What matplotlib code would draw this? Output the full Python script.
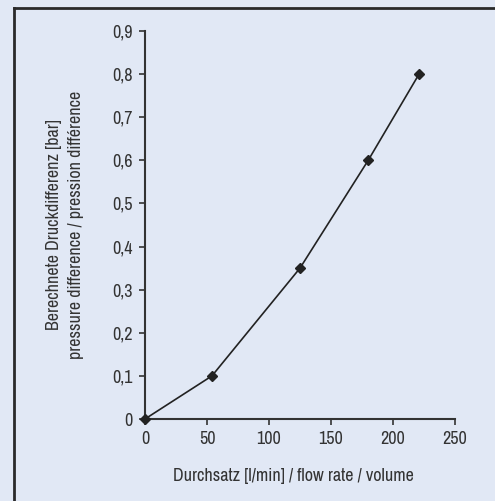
import matplotlib
matplotlib.use("Agg")
import matplotlib.pyplot as plt
from matplotlib import font_manager
from matplotlib.lines import Line2D

flow = [0, 54, 125, 180, 221]
pressure = [0, 0.1, 0.35, 0.6, 0.8]
xticks = [0, 50, 100, 150, 200, 250]
yticks = [0, 0.1, 0.2, 0.3, 0.4, 0.5, 0.6, 0.7, 0.8, 0.9]
ytick_labels = ["0", "0,1", "0,2", "0,3", "0,4", "0,5", "0,6", "0,7", "0,8", "0,9"]
xlabel = "Durchsatz [l/min] / flow rate / volume"
ylabel = "Berechnete Druckdifferenz [bar]\npressure difference / pression différence"

bg = "#e1e8f5"
txt = "#333333"
names = sorted(set(f.name for f in font_manager.fontManager.ttflist))
cands = [n for n in names if "Condensed" in n or "Narrow" in n]
fam = cands[0] if cands else "Liberation Sans"
plt.rcParams['font.family'] = [fam, 'DejaVu Sans']
plt.rcParams['font.stretch'] = 'condensed'

fig = plt.figure(figsize=(4.95, 5.01), dpi=100, facecolor=bg)
W, H = 495, 501
fig.add_artist(Line2D([14/W, 1], [1-8/H, 1-8/H], transform=fig.transFigure, color="#2a2a2a", lw=2))
fig.add_artist(Line2D([14/W, 14/W], [0, 1-8/H], transform=fig.transFigure, color="#2a2a2a", lw=2))

ax = fig.add_axes([145/W, 1-419/H, (455-145)/W, (419-31)/H])
ax.set_facecolor(bg)
ax.plot(flow, pressure, color="#222222", lw=1.2, marker="D", ms=5.5, mfc="#222222", mec="#222222", clip_on=False, zorder=3)
ax.set_xlim(0, 250)
ax.set_ylim(0, 0.9)
ax.set_xticks(xticks)
ax.set_xticklabels([str(v) for v in xticks])
ax.set_yticks(yticks)
ax.set_yticklabels(ytick_labels)
for s in ["top", "right"]:
    ax.spines[s].set_visible(False)
for s in ["left", "bottom"]:
    ax.spines[s].set_color("#333333")
    ax.spines[s].set_linewidth(1.5)
small = 13 if cands else 10
big = 13 if cands else 11
ax.tick_params(axis="both", direction="out", length=4, width=1.2, color="#333333",
               labelsize=small, labelcolor=txt)
ax.tick_params(axis="x", pad=5)
ax.tick_params(axis="y", pad=5)
ax.set_xlabel(xlabel, fontsize=big, color=txt, labelpad=14)
ax.xaxis.set_label_coords(0.478, -0.125)
ax.set_ylabel(ylabel, fontsize=big, color=txt, labelpad=20, linespacing=1.45)

fig.savefig("out.png", dpi=100, facecolor=bg)
